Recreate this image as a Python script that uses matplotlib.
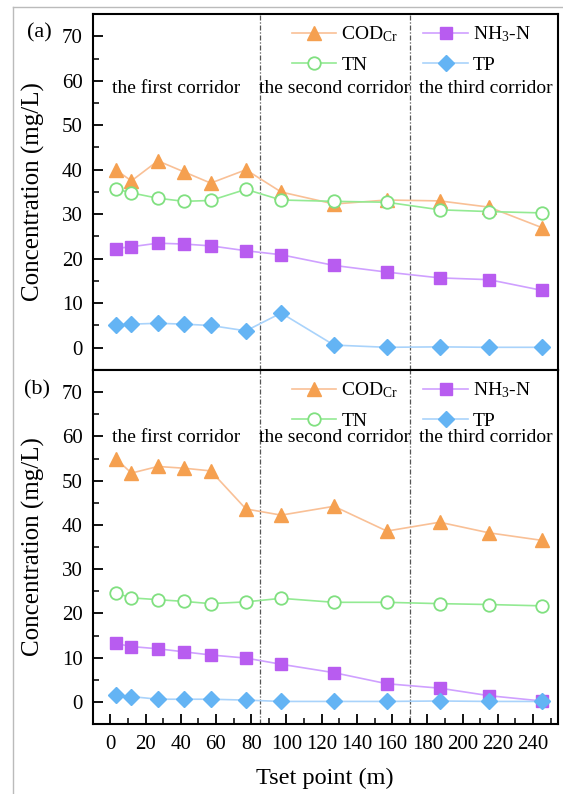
import matplotlib
matplotlib.use("Agg")
import matplotlib.pyplot as plt
from matplotlib.ticker import MultipleLocator
from matplotlib.lines import Line2D

plt.rcParams['font.family'] = ['Liberation Serif', 'DejaVu Serif']
plt.rcParams['mathtext.fontset'] = 'custom'
plt.rcParams['mathtext.rm'] = 'Liberation Serif'
plt.rcParams['mathtext.it'] = 'Liberation Serif:italic'

# ---- data ----
x = [3, 12, 27, 42, 57, 77, 97, 127, 157, 187, 215, 245]

cod_a = [40.0, 37.5, 42.0, 39.5, 37.0, 40.0, 35.0, 32.3, 33.2, 33.0, 31.6, 27.0]
tn_a = [35.7, 34.8, 33.6, 32.9, 33.1, 35.6, 33.2, 32.9, 32.7, 31.0, 30.6, 30.3]
nh3_a = [22.3, 22.7, 23.5, 23.3, 22.9, 21.8, 20.9, 18.5, 17.0, 15.7, 15.3, 12.9]
tp_a = [5.1, 5.3, 5.5, 5.3, 5.0, 3.8, 7.8, 0.6, 0.1, 0.2, 0.1, 0.1]

cod_b = [55.0, 51.7, 53.2, 52.8, 52.2, 43.6, 42.2, 44.2, 38.6, 40.6, 38.2, 36.5]
tn_b = [24.6, 23.5, 23.1, 22.7, 22.2, 22.6, 23.4, 22.5, 22.5, 22.2, 22.0, 21.7]
nh3_b = [13.2, 12.5, 12.0, 11.3, 10.6, 9.9, 8.5, 6.6, 4.1, 3.1, 1.4, 0.2]
tp_b = [1.5, 1.2, 0.6, 0.6, 0.6, 0.4, 0.1, 0.1, 0.1, 0.2, 0.1, 0.1]

corridor_bounds = [85, 170]
corridor_labels = ['the first corridor', 'the second corridor', 'the third corridor']
corridor_x = [37.5, 127.5, 213]
corridor_y = {'a': 58.3, 'b': 59.8}

series_labels = ['COD$_{\\rm Cr}$', 'TN', 'NH$_3$-N', 'TP']
x_ticks = list(range(0, 241, 20))
y_ticks = list(range(0, 71, 10))

# styles
st = {
    'COD': dict(marker='^', color='#F9C096', mfc='#F5A050', mec='#F5A050', ms=9.5),
    'TN': dict(marker='o', color='#93EA93', mfc='white', mec='#80E080', ms=9, mew=1.3),
    'NH3': dict(marker='s', color='#CFA0FF', mfc='#B85CF0', mec='#B85CF0', ms=8),
    'TP': dict(marker='D', color='#A9D3FB', mfc='#64B4F4', mec='#64B4F4', ms=8),
}

fig = plt.figure(figsize=(5.63, 7.94), dpi=100)
L, R = 92.7 / 563, 557.7 / 563
ya_top, mid, yb_bot = 1 - 14 / 794, 1 - 370 / 794, 1 - 724 / 794
axa = fig.add_axes([L, mid, R - L, ya_top - mid])
axb = fig.add_axes([L, yb_bot, R - L, mid - yb_bot])

for key, ax, data in [('a', axa, (cod_a, tn_a, nh3_a, tp_a)), ('b', axb, (cod_b, tn_b, nh3_b, tp_b))]:
    cod, tn, nh3, tp = data
    h1, = ax.plot(x, cod, lw=1.2, **st['COD'])
    h2, = ax.plot(x, tn, lw=1.2, **st['TN'])
    h3, = ax.plot(x, nh3, lw=1.2, **st['NH3'])
    h4, = ax.plot(x, tp, lw=1.2, **st['TP'])
    for xb in corridor_bounds:
        ax.axvline(xb, color='#555555', lw=0.9, ls=(0, (4, 1.5, 1, 1.5)), zorder=1)
    for lab, cx in zip(corridor_labels, corridor_x):
        ax.text(cx, corridor_y[key], lab, ha='center', va='center', fontsize=14)
    ax.set_xlim(-10, 254)
    ax.set_ylim(-5, 75)
    ax.set_yticks(y_ticks)
    ax.yaxis.set_minor_locator(MultipleLocator(5))
    ax.tick_params(axis='y', which='major', direction='in', length=7, width=1.3, labelsize=15, pad=7, right=False)
    ax.tick_params(axis='y', which='minor', direction='in', length=4, width=1.1, right=False)
    ax.set_ylabel('Concentration (mg/L)', fontsize=18, labelpad=12)
    for s in ax.spines.values():
        s.set_linewidth(1.5)
    leg = ax.legend([h1, h2, h3, h4], series_labels, ncol=2, loc='upper left',
                    bbox_to_anchor=(0.428, 0.97), frameon=False, fontsize=14,
                    handlelength=2.3, handletextpad=0.25, columnspacing=1.3,
                    labelspacing=0.62, borderpad=0, borderaxespad=0)

axa.set_xticks(x_ticks)
axa.tick_params(axis='x', which='both', bottom=False, top=False, labelbottom=False)
axb.set_xticks(x_ticks)
axb.xaxis.set_minor_locator(MultipleLocator(10))
axb.tick_params(axis='x', which='major', direction='in', length=7, width=1.3, labelsize=15, pad=8, top=False)
axb.tick_params(axis='x', which='minor', direction='in', length=4, width=1.1, top=False)
axb.set_xlabel('Tset point (m)', fontsize=17.5, labelpad=10)

fig.text(39 / 563, 1 - 33 / 794, '(a)', fontsize=16, ha='center', va='center')
fig.text(37 / 563, 1 - 390 / 794, '(b)', fontsize=16, ha='center', va='center')

# light frame of the original image
fig.add_artist(Line2D([13 / 563, 13 / 563], [0, 1 - 7 / 794], transform=fig.transFigure, color='#BBBBBB', lw=1))
fig.add_artist(Line2D([13 / 563, 1], [1 - 7 / 794, 1 - 7 / 794], transform=fig.transFigure, color='#BBBBBB', lw=1))

fig.savefig('out.png', dpi=100)
